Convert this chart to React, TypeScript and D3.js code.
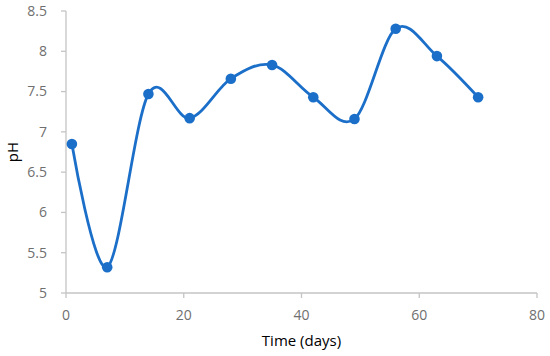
import React from "react"
import * as d3 from "d3"

const days = [1, 7, 14, 21, 28, 35, 42, 49, 56, 63, 70]
const ph = [6.85, 5.32, 7.47, 7.17, 7.66, 7.83, 7.43, 7.16, 8.28, 7.94, 7.43]
const xTicks = [0, 20, 40, 60, 80]
const yTicks = [5, 5.5, 6, 6.5, 7, 7.5, 8, 8.5]

const width = 550
const height = 356
const margin = { top: 11, right: 13, bottom: 63, left: 66 }

const lineColor = "#1b6fc9"
const axisColor = "#c4c4c4"
const labelColor = "#6f6f6f"

export default function App() {
  const innerWidth = width - margin.left - margin.right
  const innerHeight = height - margin.top - margin.bottom

  const xScale = d3.scaleLinear().domain([0, 80]).range([0, innerWidth])
  const yScale = d3.scaleLinear().domain([5, 8.5]).range([innerHeight, 0])

  const points: [number, number][] = days.map((d, i) => [d, ph[i]])

  const line = d3
    .line<[number, number]>()
    .x(d => xScale(d[0]))
    .y(d => yScale(d[1]))
    .curve(d3.curveCatmullRom.alpha(0))

  return (
    <svg
      width={width}
      height={height}
      style={{ position: "absolute", left: 0, top: 0 }}
    >
      <rect width={width} height={height} fill="white" />
      <g transform={`translate(${margin.left},${margin.top})`}>
        {/* y axis */}
        <line x1={0} x2={0} y1={0} y2={innerHeight} stroke={axisColor} strokeWidth={1.3} />
        {yTicks.map(t => (
          <g key={t} transform={`translate(0,${yScale(t)})`}>
            <line x1={-5} x2={0} stroke={axisColor} strokeWidth={1.3} />
            <text
              x={-19}
              dy="0.35em"
              textAnchor="end"
              fontFamily="'Open Sans', sans-serif"
              fontSize={14}
              fill={labelColor}
            >
              {t}
            </text>
          </g>
        ))}
        {/* x axis */}
        <line x1={0} x2={innerWidth} y1={innerHeight} y2={innerHeight} stroke={axisColor} strokeWidth={1.3} />
        {xTicks.map(t => (
          <g key={t} transform={`translate(${xScale(t)},${innerHeight})`}>
            <line y1={0} y2={5} stroke={axisColor} strokeWidth={1.3} />
            <text
              y={22}
              dy="0.35em"
              textAnchor="middle"
              fontFamily="'Open Sans', sans-serif"
              fontSize={14}
              fill={labelColor}
            >
              {t}
            </text>
          </g>
        ))}

        <path d={line(points) ?? ""} fill="none" stroke={lineColor} strokeWidth={2.8} />
        {points.map((p, i) => (
          <circle key={i} cx={xScale(p[0])} cy={yScale(p[1])} r={5.3} fill={lineColor} />
        ))}
      </g>

      <text
        x={margin.left + innerWidth / 2}
        y={341}
        dy="0.35em"
        textAnchor="middle"
        fontFamily="'Open Sans', sans-serif"
        fontSize={15}
        fill="#000"
      >
        Time (days)
      </text>
      <text
        transform={`translate(13,${margin.top + innerHeight / 2}) rotate(-90)`}
        dy="0.35em"
        textAnchor="middle"
        fontFamily="'Open Sans', sans-serif"
        fontSize={15}
        fill="#000"
      >
        pH
      </text>
    </svg>
  )
}
